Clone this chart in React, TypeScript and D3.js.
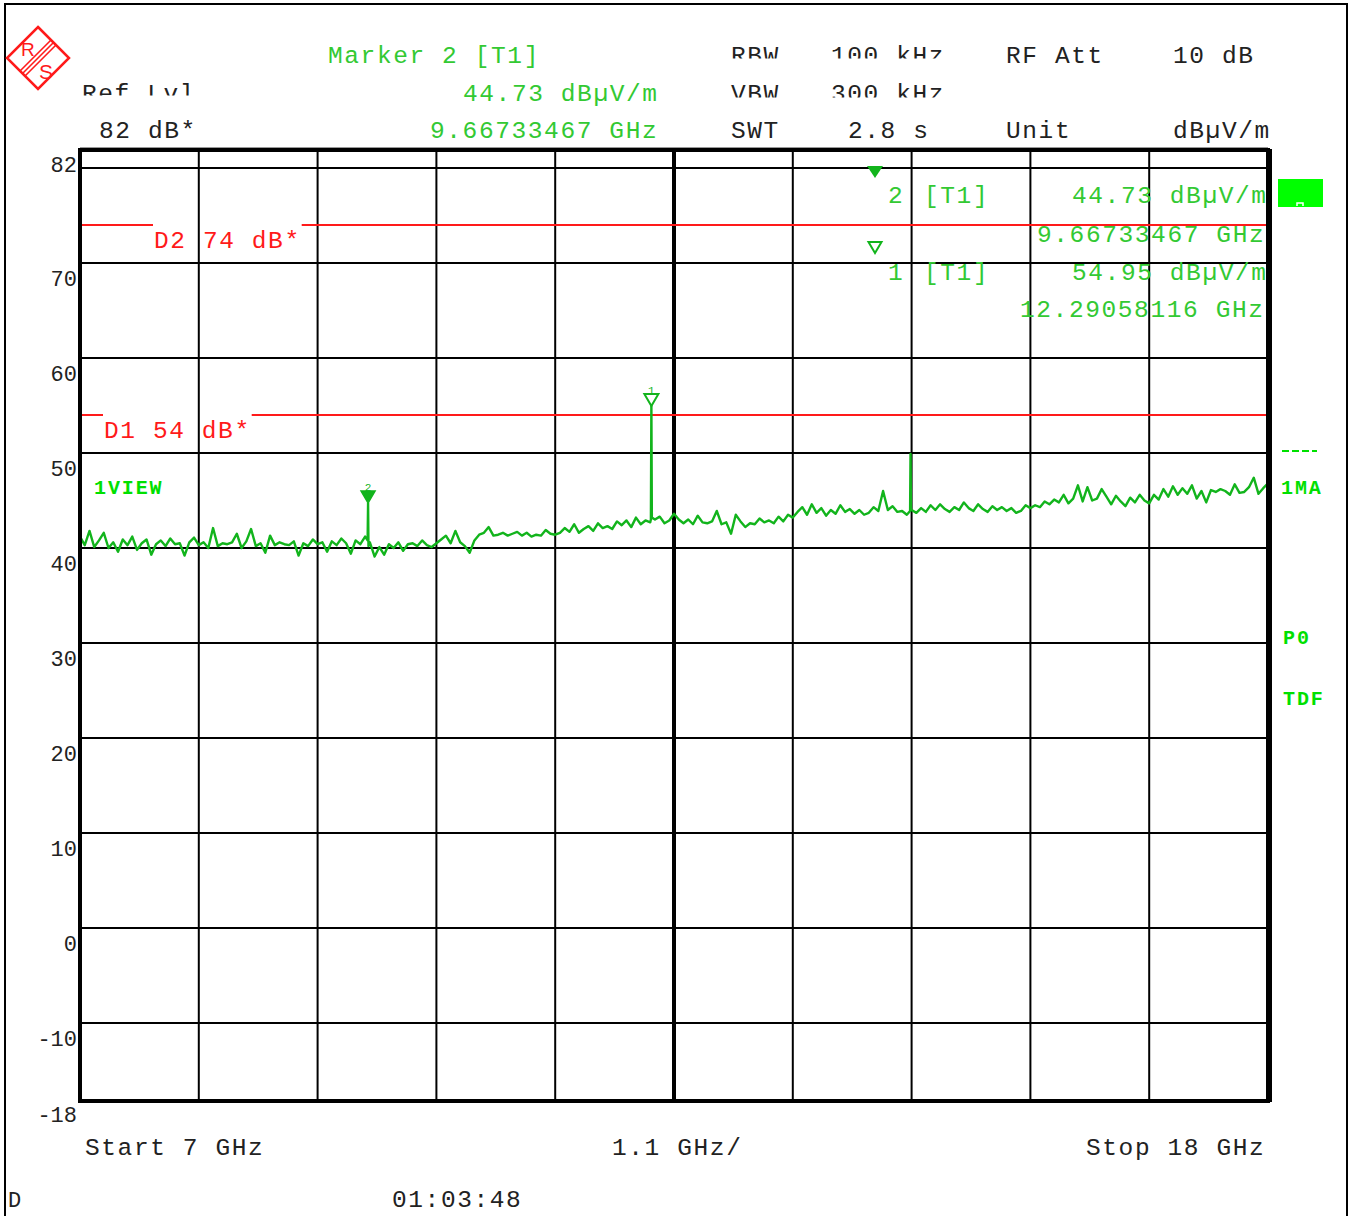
import React from "react";
import * as d3 from "d3";

// ---------- data ----------
const START_GHZ = 7;
const STOP_GHZ = 18;
const REF_LEVEL = 82;
const BOTTOM_LEVEL = -18;
const X_DIVISIONS = 10;

const yTickLabels = [82, 70, 60, 50, 40, 30, 20, 10, 0, -10, -18];
const yGridLevels = [80, 70, 60, 50, 40, 30, 20, 10, 0, -10];

// sweep levels (dBµV/m), evenly spaced from 7 GHz to 18 GHz
const traceLevels = [
  // 7.0 - 9.2 GHz
  41.2, 40.3, 41.8, 40.1, 40.8, 41.6, 40.0, 40.6, 39.6, 40.9, 40.3, 41.2, 39.8, 40.5, 40.9, 39.3, 40.4,
  40.8, 40.2, 41.0, 40.4, 40.5, 39.2, 40.6, 41.1, 40.3, 40.6, 40.0, 42.1, 40.2, 40.5, 40.4, 40.6, 41.5,
  40.0, 40.7, 42.0, 40.2, 40.5, 39.5, 41.3, 40.3, 40.6, 40.4, 40.3, 40.7, 39.2, 40.5, 40.2, 40.9, 40.4,
  // 9.2 - 10.3 GHz
  40.6, 39.6, 40.7, 40.3, 41.0, 40.5, 39.4, 40.8, 40.4, 41.2, 40.6, 39.1, 40.1, 39.3, 40.4, 40.0, 40.6,
  39.7, 40.4, 40.5, 40.2, 40.8, 40.3, 40.1, 40.5,
  // 10.3 - 11.4 GHz
  40.9, 41.3, 40.5, 41.8, 40.6, 40.2, 39.5, 40.8, 41.4, 41.6, 42.2, 41.3, 41.4, 41.6, 41.3, 41.5, 41.7,
  41.3, 41.6, 41.2, 41.4, 41.3, 41.9, 41.5, 41.4,
  // 11.4 - 12.5 GHz
  41.6, 42.1, 41.7, 42.5, 41.6, 42.0, 42.3, 41.8, 42.6, 42.1, 42.3, 42.0, 42.8, 42.4, 42.9, 42.2, 43.2,
  42.5, 42.9, 42.7, 43.0, 43.3, 42.6, 42.9, 43.6,
  // 12.5 - 13.6 GHz
  43.0, 42.6, 43.0, 42.5, 43.4, 42.7, 42.6, 42.8, 43.9, 42.5, 42.7, 41.5, 43.5, 42.8, 42.2, 42.6, 42.5,
  43.1, 42.7, 42.9, 42.6, 43.3, 42.8, 43.5, 43.2,
  // 13.6 - 14.7 GHz
  43.8, 44.3, 43.5, 44.6, 43.7, 44.2, 43.4, 44.0, 43.6, 44.5, 43.8, 44.1, 43.6, 44.0, 43.5, 43.7, 44.3,
  43.9, 46.0, 44.0, 44.4, 43.8, 43.9, 43.5, 44.0,
  // 14.7 - 15.8 GHz
  43.7, 44.2, 43.8, 44.5, 44.0, 44.6, 44.1, 43.8, 44.3, 44.0, 44.8, 44.2, 43.9, 44.6, 44.1, 43.8, 44.4,
  44.0, 44.3, 43.9, 44.2, 43.7, 43.9, 44.5, 44.2,
  // 15.8 - 16.9 GHz
  44.5, 44.3, 44.9, 44.6, 45.1, 44.8, 45.6, 44.7, 45.2, 46.6, 44.9, 46.4, 45.0, 45.2, 46.2, 45.4, 44.6,
  45.5, 44.9, 44.4, 45.3, 44.8, 45.6, 45.0, 44.7,
  // 16.9 - 18.0 GHz
  45.6, 45.1, 46.2, 45.4, 46.5, 45.6, 46.3, 45.7, 46.6, 45.2, 46.0, 44.8, 46.1, 45.9, 46.2, 46.0, 45.6,
  46.7, 45.8, 45.9, 46.4, 47.4, 45.7, 46.3, 46.8,
];

// narrow spurs: [GHz, dBµV/m]
const spurPoints: [number, number][] = [
  [9.663, 40.8], [9.66733467, 44.73], [9.671, 40.2],
  [12.286, 43.0], [12.29058116, 54.95], [12.295, 43.2],
  [14.686, 43.9], [14.69, 49.9], [14.694, 44.0],
];

const displayLines = [
  { name: "D2", level: 74 },
  { name: "D1", level: 54 },
];

const markers = [
  { id: 1, freq: 12.29058116, level: 54.95, filled: false },
  { id: 2, freq: 9.66733467, level: 44.73, filled: true },
];

// ---------- styles ----------
const MONO = "'Liberation Mono', 'Courier New', monospace";
const GREEN_TXT = "#33c933";
const GREEN_BOLD = "#00e000";
const TRACE = "#12b41c";
const RED = "#ff1a1a";

const PL = 80, PR = 1268, PT = 149, PB = 1099;

export default function App() {
  const x = d3.scaleLinear().domain([START_GHZ, STOP_GHZ]).range([PL, PR]);
  const y = d3.scaleLinear().domain([BOTTOM_LEVEL, REF_LEVEL]).range([PB, PT]);

  const step = (STOP_GHZ - START_GHZ) / (traceLevels.length - 1);
  const pts: [number, number][] = traceLevels.map((v, i) => [START_GHZ + i * step, v] as [number, number]);
  const all = pts.concat(spurPoints).sort((a, b) => a[0] - b[0]);
  const line = d3.line<[number, number]>().x((d) => x(d[0])).y((d) => y(d[1]));

  const divTicks = d3.range(0, X_DIVISIONS + 1).map((i) => START_GHZ + (i * (STOP_GHZ - START_GHZ)) / X_DIVISIONS);

  const hdr = { fontFamily: MONO, fontSize: 24.5, letterSpacing: 1.6 } as React.CSSProperties;
  const bold = { fontFamily: MONO, fontSize: 20, fontWeight: 700, letterSpacing: 1.9, fill: GREEN_BOLD } as React.CSSProperties;
  const CHAR = 16.3;

  const dlLabelX: Record<string, number> = { D2: 154, D1: 104 };

  const mk1 = markers.find((m) => m.id === 1)!;
  const mk2 = markers.find((m) => m.id === 2)!;

  const tri = (cx: number, tipY: number, w: number, h: number) =>
    `M${cx - w / 2},${tipY - h} L${cx + w / 2},${tipY - h} L${cx},${tipY} Z`;

  // logo geometry
  const lc = { x: 38, y: 58 }, lr = 31;
  const s2 = Math.SQRT1_2;

  return (
    <svg width={1351} height={1216} style={{ display: "block", position: "absolute", left: 0, top: 0 }}>
      <defs>
        <clipPath id="clipRow1"><rect x={700} y={0} width={300} height={58.5} /></clipPath>
        <clipPath id="clipRow2"><rect x={0} y={70} width={1000} height={25.5} /></clipPath>
        <clipPath id="clipRow2b"><rect x={700} y={70} width={300} height={27.5} /></clipPath>
      </defs>
      <rect x={0} y={0} width={1351} height={1216} fill="#fff" />
      {/* outer frame */}
      <path d="M5,1216 L5,4 L1347,4 L1347,1216" fill="none" stroke="#000" strokeWidth={2} />

      {/* logo */}
      <g stroke={RED} fill="none" strokeWidth={2.5}>
        <path d={`M${lc.x},${lc.y - lr} L${lc.x + lr},${lc.y} L${lc.x},${lc.y + lr} L${lc.x - lr},${lc.y} Z`} />
        {[-3.5, 0, 3.5].map((o) => {
          const ox = lc.x + o * s2, oy = lc.y + o * s2;
          const d = lr * s2;
          return <line key={o} x1={ox + d * s2} y1={oy - d * s2} x2={ox - d * s2} y2={oy + d * s2} strokeWidth={1.6} />;
        })}
      </g>
      <text x={21} y={56} fill={RED} style={{ fontFamily: "'Liberation Sans', sans-serif", fontSize: 19 }}>R</text>
      <text x={39} y={79} fill={RED} style={{ fontFamily: "'Liberation Sans', sans-serif", fontSize: 21 }}>S</text>

      {/* header */}
      <text x={328} y={63} fill={GREEN_TXT} style={hdr}>Marker 2 [T1]</text>
      <text x={463} y={101} fill={GREEN_TXT} style={hdr}>44.73 dBµV/m</text>
      <text x={430} y={138} fill={GREEN_TXT} style={hdr}>9.66733467 GHz</text>
      <g clipPath="url(#clipRow2)"><text x={82} y={101} fill="#222" style={hdr}>Ref Lvl</text></g>
      <text x={99} y={138} fill="#222" style={hdr}>82 dB*</text>
      <g clipPath="url(#clipRow1)">
        <text x={731} y={63} fill="#222" style={hdr}>RBW</text>
        <text x={831} y={63} fill="#222" style={hdr}>100 kHz</text>
      </g>
      <g clipPath="url(#clipRow2b)">
        <text x={731} y={101} fill="#222" style={hdr}>VBW</text>
        <text x={831} y={101} fill="#222" style={hdr}>300 kHz</text>
      </g>
      <text x={731} y={138} fill="#222" style={hdr}>SWT</text>
      <text x={848} y={138} fill="#222" style={hdr}>2.8 s</text>
      <text x={1006} y={63} fill="#222" style={hdr}>RF Att</text>
      <text x={1173} y={63} fill="#222" style={hdr}>10 dB</text>
      <text x={1006} y={138} fill="#222" style={hdr}>Unit</text>
      <text x={1173} y={138} fill="#222" style={hdr}>dBµV/m</text>

      {/* grid */}
      <g stroke="#000" strokeWidth={2}>
        {yGridLevels.map((v) => (
          <line key={v} x1={PL} x2={PR} y1={y(v)} y2={y(v)} />
        ))}
        {divTicks.slice(1, -1).map((f, i) => (
          <line key={f} x1={x(f)} x2={x(f)} y1={PT} y2={PB} strokeWidth={i === 4 ? 4 : 2} />
        ))}
      </g>

      {/* y labels */}
      {yTickLabels.map((v) => (
        <text key={v} x={77} y={y(v) + 23} textAnchor="end" fill="#222" style={{ fontFamily: MONO, fontSize: 22 }}>
          {v}
        </text>
      ))}

      {/* display lines */}
      {displayLines.map((dl) => {
        const lx = dlLabelX[dl.name];
        const label = `${dl.name} ${dl.level} dB*`;
        const endX = lx + label.length * CHAR + 1;
        return (
          <g key={dl.name}>
            <line x1={PL} x2={lx - 1} y1={y(dl.level)} y2={y(dl.level)} stroke={RED} strokeWidth={2} />
            <line x1={endX} x2={PR} y1={y(dl.level)} y2={y(dl.level)} stroke={RED} strokeWidth={2} />
            <text x={lx} y={y(dl.level) + 23} fill={RED} style={hdr}>{label}</text>
          </g>
        );
      })}

      {/* trace */}
      <path d={line(all) || ""} fill="none" stroke={TRACE} strokeWidth={2.4} strokeLinejoin="round" />

      {/* markers on trace */}
      <path d={tri(x(mk2.freq), y(mk2.level), 14, 12)} fill={TRACE} stroke={TRACE} strokeWidth={1.5} />
      <text x={x(mk2.freq)} y={y(mk2.level) - 12} textAnchor="middle" fill={TRACE} style={{ fontFamily: MONO, fontSize: 11 }}>{mk2.id}</text>
      <path d={tri(x(mk1.freq), y(mk1.level), 14, 12)} fill="none" stroke={TRACE} strokeWidth={2} />
      <text x={x(mk1.freq)} y={y(mk1.level) - 12} textAnchor="middle" fill={TRACE} style={{ fontFamily: MONO, fontSize: 11 }}>{mk1.id}</text>

      {/* marker table */}
      <path d={tri(875, 178, 16, 12)} fill={TRACE} />
      <text x={888} y={203} fill={GREEN_TXT} style={hdr}>{mk2.id}</text>
      <text x={924} y={203} fill={GREEN_TXT} style={hdr}>[T1]</text>
      <text x={1072} y={203} fill={GREEN_TXT} style={hdr}>{mk2.level.toFixed(2)} dBµV/m</text>
      <text x={1037} y={242} fill={GREEN_TXT} style={hdr}>{mk2.freq.toFixed(8)} GHz</text>
      <path d={tri(875, 253, 13, 11)} fill="none" stroke={TRACE} strokeWidth={2} />
      <text x={888} y={280} fill={GREEN_TXT} style={hdr}>{mk1.id}</text>
      <text x={924} y={280} fill={GREEN_TXT} style={hdr}>[T1]</text>
      <text x={1072} y={280} fill={GREEN_TXT} style={hdr}>{mk1.level.toFixed(2)} dBµV/m</text>
      <text x={1020} y={317} fill={GREEN_TXT} style={hdr}>{mk1.freq.toFixed(8)} GHz</text>

      {/* plot frame */}
      <rect x={PL} y={PT + 1} width={PR - PL} height={PB - PT + 1} fill="none" stroke="#000" strokeWidth={4} />
      <line x1={PR + 1} x2={PR + 1} y1={PT} y2={PB + 3} stroke="#000" strokeWidth={6} />
      <line x1={PL} x2={PR} y1={PT - 1.5} y2={PT - 1.5} stroke="#999" strokeWidth={1} />

      {/* right side annotations */}
      <rect x={1278} y={179} width={45} height={28} fill="#00ff00" />
      <path d="M1297,206 L1297,203 L1303,203 L1303,206" fill="none" stroke="#fff" strokeWidth={1.5} />
      <line x1={1282} x2={1317} y1={451} y2={451} stroke={GREEN_BOLD} strokeWidth={2} strokeDasharray="7,3" />
      <text x={1281} y={494} style={bold}>1MA</text>
      <text x={1283} y={644} style={bold}>P0</text>
      <text x={1283} y={705} style={bold}>TDF</text>
      <text x={94} y={494} style={bold}>1VIEW</text>

      {/* bottom */}
      <text x={85} y={1155} fill="#222" style={hdr}>Start {START_GHZ} GHz</text>
      <text x={612} y={1155} fill="#222" style={hdr}>{((STOP_GHZ - START_GHZ) / X_DIVISIONS).toFixed(1)} GHz/</text>
      <text x={1086} y={1155} fill="#222" style={hdr}>Stop {STOP_GHZ} GHz</text>
      <text x={8} y={1207} fill="#222" style={{ fontFamily: MONO, fontSize: 22 }}>D</text>
      <text x={392} y={1207} fill="#222" style={hdr}>01:03:48</text>
    </svg>
  );
}
